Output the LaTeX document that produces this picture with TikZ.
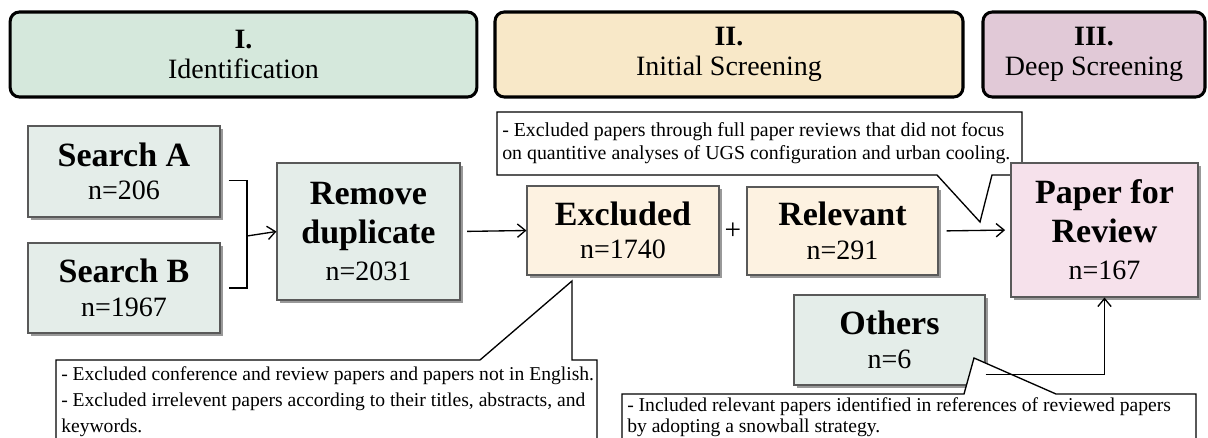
\documentclass[tikz,border=0pt]{standalone}
\usepackage{fontspec}
\setmainfont{Liberation Serif}
\usetikzlibrary{arrows.meta,shadows,positioning}

\definecolor{verdeI}{HTML}{D5E8DC}
\definecolor{ocreII}{HTML}{F8E8C8}
\definecolor{malvaIII}{HTML}{E1C9D7}
\definecolor{cajaGris}{HTML}{E4EDE9}
\definecolor{cajaCrema}{HTML}{FDF2E1}
\definecolor{cajaRosa}{HTML}{F6E1EB}

\begin{document}
\begin{tikzpicture}[x=0.75pt,y=-0.75pt,
    fase/.style={draw=black, line width=2.3pt, rounded corners=7pt, align=center,
        inner sep=0pt, minimum height=63.75pt, font=\fontsize{21}{22}\selectfont},
    caja/.style={draw=black!65, line width=0.8pt, align=center, inner sep=0pt,
        drop shadow={shadow xshift=2.6pt, shadow yshift=-2.6pt, fill=black!40, opacity=1},
        font=\fontsize{21}{25}\selectfont},
    nota/.style={draw=black, line width=1pt, fill=white},
    texto/.style={align=left, inner sep=0pt, anchor=west},
    flecha/.style={-{Straight Barb[length=6pt,width=10pt]}, line width=1pt},
    linea/.style={line width=1pt}]

    % ===============================
    % Marco
    % ===============================
    \clip (0,0) rectangle (1208,438);

    \def\tit{\fontsize{25.5}{31}\selectfont\bfseries}

    % ===============================
    % Fases
    % ===============================
    \node[fase, fill=verdeI, minimum width=350pt] (faseI) at (243.5,54.5)
        {\textbf{I.}\\Identification};
    \node[fase, fill=ocreII, minimum width=351pt] (faseII) at (729,54.5)
        {\textbf{II.}\\Initial Screening};
    \node[fase, fill=malvaIII, minimum width=166.5pt] (faseIII) at (1094,54.5)
        {\textbf{III.}\\Deep Screening};

    % ===============================
    % Identificacion
    % ===============================
    \node[caja, fill=cajaGris, minimum width=144pt, minimum height=68.25pt] (busA) at (124,171.5)
        {{\tit Search A}\\n=206};
    \node[caja, fill=cajaGris, minimum width=144pt, minimum height=67.5pt] (busB) at (124,288)
        {{\tit Search B}\\n=1967};
    \node[caja, fill=cajaGris, minimum width=137.25pt, minimum height=102.75pt] (duplic) at (368.5,231.5)
        {{\tit Remove}\\[4pt]{\tit duplicate}\\[3pt]n=2031};

    % Corchete de union
    \coordinate (union) at (247,236);
    \draw[linea] ([xshift=6pt,yshift=-7pt]busA.east) -| (union) |- ([xshift=6pt]busB.east);
    \draw[flecha] (union) -- (duplic.west);

    % ===============================
    % Cribado inicial
    % ===============================
    \node[caja, fill=cajaCrema, minimum width=144pt, minimum height=66.75pt] (excl) at (623,230.5)
        {{\tit Excluded}\\n=1740};
    \node[caja, fill=cajaCrema, minimum width=143.25pt, minimum height=66pt] (relev) at (842.5,231)
        {{\tit Relevant}\\n=291};
    \node[font=\fontsize{22}{24}\selectfont, inner sep=0pt] (mas) at (733,231) {+};
    \node[caja, fill=cajaGris, minimum width=143.25pt, minimum height=67.5pt] (otros) at (889.5,340)
        {{\tit Others}\\n=6};

    \draw[flecha, shorten <=5pt] (duplic.east) -- (excl.west);

    % Nota: criterios de exclusion
    \draw[nota] (56,450) -- (56,360) -- (480,360) -- (572,281) -- (572,360) -- (597,360) -- (597,450);
    \node[texto, font=\fontsize{14.7}{19.5}\selectfont] (notaExcl) at (61,402)
        {- Excluded conference and review papers and papers not in English.\\
         - Excluded irrelevent papers according to their titles, abstracts, and\\
         keywords.};

    % Nota: revision completa
    \draw[nota] (497,175) -- (497,112) -- (1022,112) -- (1022,175) -- (992,175) -- (980,222) -- (937,175) -- cycle;
    \node[texto, font=\fontsize{14.9}{17.25}\selectfont] (notaRev) at (502,143.5)
        {- Excluded papers through full paper reviews that did not focus\\
         on quantitive analyses of UGS configuration and urban cooling.};

    % ===============================
    % Cribado profundo
    % ===============================
    \node[caja, fill=cajaRosa, minimum width=140.25pt, minimum height=100.5pt] (revision) at (1104.5,230)
        {{\tit Paper for}\\[4pt]{\tit Review}\\[3pt]n=167};

    \draw[flecha, shorten <=6pt, shorten >=4pt] (relev.east) -- (revision.west);

    % Nota: bola de nieve
    \draw[nota] (622,450) -- (622,394) -- (964,394) -- (974,358) -- (1056,394) -- (1196,394) -- (1196,450);
    \node[texto, font=\fontsize{14.7}{15.75}\selectfont] (notaBola) at (627,417)
        {- Included relevant papers identified in references of reviewed papers\\
         by adopting a snowball strategy.};

    \draw[flecha] ([yshift=8.25pt]otros.south east) -| (revision.south);

\end{tikzpicture}
\end{document}
